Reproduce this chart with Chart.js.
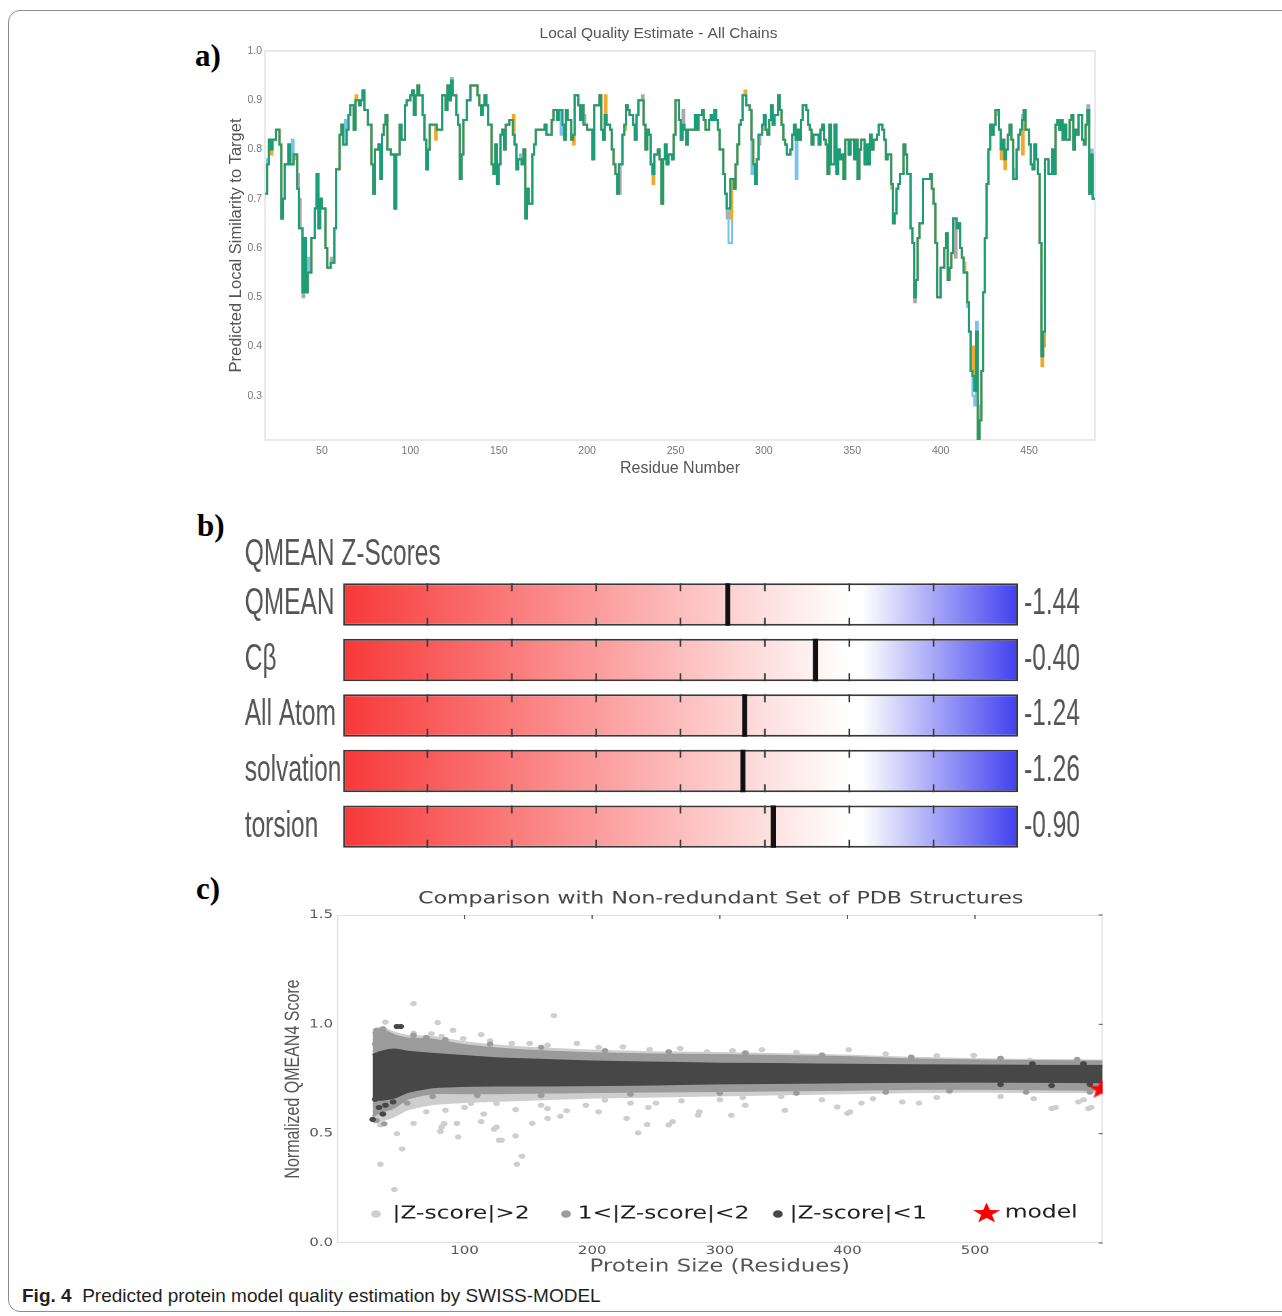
<!DOCTYPE html>
<html><head><meta charset="utf-8">
<script src="https://cdn.jsdelivr.net/npm/chart.js@4.4.1/dist/chart.umd.min.js"></script>
<style>
html,body{margin:0;padding:0;background:#fff;}
body{width:1282px;height:1316px;position:relative;overflow:hidden;}
.frame{position:absolute;left:8px;top:10px;width:1300px;height:1302px;border:1px solid #8c8c8c;border-radius:12px;box-sizing:border-box;}
.plab{position:absolute;font-family:'Liberation Serif','Times New Roman',serif;font-weight:bold;font-size:31px;color:#000;line-height:1;}
.panel{position:absolute;transform-origin:0 0;}
.caption{position:absolute;left:22px;top:1285px;font-family:'Liberation Sans',Arial,sans-serif;font-size:19px;color:#231f20;white-space:nowrap;}
</style></head>
<body>
<div class="frame"></div>
<div class="plab" style="left:195px;top:40px">a)</div>
<div class="plab" style="left:197px;top:510px">b)</div>
<div class="plab" style="left:196px;top:873px">c)</div>
<div class="panel" style="left:222px;top:15px"><canvas id="chartA" width="882" height="475"></canvas></div>
<div class="panel" style="left:240px;top:530px;transform:scaleX(0.68)"><canvas id="chartB" width="1250" height="347"></canvas></div>
<div class="panel" style="left:280px;top:880px;transform:scaleX(1.3)"><canvas id="chartC" width="678" height="400"></canvas></div>
<div class="caption"><b>Fig. 4</b>&nbsp; Predicted protein model quality estimation by SWISS-MODEL</div>
<script>
// ---------------- DATA: panel a (local quality, step breakpoints) ----------------
const resA = [18,19,20,21,22,24,26,27,28,29,31,32,34,36,37,39,40,41,42,44,46,47,48,49,50,52,53,55,57,58,60,61,62,64,65,66,68,69,71,72,73,74,76,78,79,80,82,83,84,85,86,87,89,91,92,94,95,97,98,100,101,102,103,104,105,107,108,109,110,111,115,118,120,121,122,123,124,126,127,128,129,130,132,134,138,139,140,141,142,143,144,146,147,148,149,150,151,152,153,154,156,158,159,160,161,163,164,165,166,167,169,170,171,176,177,180,181,183,184,186,187,188,189,191,192,193,195,196,197,198,200,203,204,207,208,209,210,211,213,214,215,216,217,218,220,221,222,223,224,226,227,228,229,232,233,234,235,236,237,238,240,241,242,243,244,245,246,248,249,250,252,253,254,255,256,257,261,262,263,265,266,267,269,270,271,272,273,274,275,277,278,279,281,283,284,285,286,287,288,290,292,293,294,295,296,297,299,300,301,302,303,304,305,306,308,309,310,311,312,313,315,316,317,318,319,320,321,322,324,325,326,327,328,331,332,333,334,335,336,337,338,340,341,342,343,344,345,346,348,349,351,352,353,354,355,357,358,359,360,361,362,364,365,367,368,369,370,372,373,374,375,376,377,379,380,381,383,384,385,386,387,388,390,394,395,396,397,398,400,402,403,404,405,406,407,409,410,411,412,413,415,416,417,418,419,420,421,422,423,424,425,426,427,428,429,430,431,433,434,435,436,437,438,439,440,441,443,444,445,446,447,448,450,451,452,453,454,455,456,457,458,459,461,463,464,465,466,467,468,469,470,471,473,474,475,476,477,478,480,481,482,483,484,485,486,487.3];
const qA = [0.71,0.77,0.82,0.80,0.82,0.84,0.81,0.66,0.70,0.77,0.81,0.77,0.79,0.72,0.64,0.51,0.62,0.51,0.55,0.62,0.68,0.75,0.64,0.70,0.68,0.60,0.56,0.57,0.64,0.76,0.83,0.85,0.81,0.84,0.87,0.89,0.84,0.90,0.89,0.90,0.92,0.88,0.85,0.77,0.71,0.80,0.81,0.74,0.83,0.85,0.87,0.80,0.79,0.68,0.79,0.85,0.82,0.89,0.90,0.91,0.92,0.87,0.91,0.93,0.91,0.87,0.82,0.76,0.80,0.85,0.84,0.91,0.88,0.93,0.90,0.94,0.91,0.87,0.85,0.74,0.79,0.86,0.90,0.93,0.91,0.89,0.87,0.89,0.91,0.89,0.85,0.77,0.75,0.81,0.73,0.77,0.83,0.84,0.80,0.85,0.86,0.83,0.81,0.76,0.78,0.77,0.80,0.66,0.72,0.69,0.79,0.81,0.84,0.85,0.83,0.86,0.88,0.86,0.88,0.85,0.82,0.88,0.86,0.82,0.83,0.91,0.89,0.86,0.89,0.85,0.84,0.78,0.89,0.91,0.84,0.82,0.87,0.85,0.84,0.80,0.77,0.75,0.71,0.77,0.83,0.85,0.89,0.88,0.87,0.85,0.82,0.87,0.90,0.85,0.80,0.84,0.83,0.77,0.75,0.79,0.80,0.78,0.69,0.78,0.81,0.77,0.79,0.78,0.83,0.90,0.86,0.82,0.85,0.84,0.81,0.84,0.87,0.84,0.87,0.88,0.86,0.84,0.86,0.87,0.86,0.88,0.86,0.84,0.80,0.75,0.71,0.68,0.74,0.72,0.77,0.81,0.85,0.86,0.91,0.89,0.88,0.82,0.77,0.73,0.78,0.83,0.85,0.87,0.84,0.83,0.86,0.89,0.85,0.87,0.91,0.88,0.85,0.82,0.81,0.79,0.80,0.83,0.85,0.82,0.84,0.82,0.86,0.89,0.88,0.85,0.84,0.81,0.83,0.81,0.84,0.85,0.82,0.81,0.75,0.85,0.77,0.85,0.75,0.80,0.78,0.79,0.74,0.82,0.79,0.82,0.78,0.82,0.74,0.80,0.82,0.77,0.81,0.77,0.83,0.80,0.82,0.83,0.85,0.84,0.82,0.78,0.79,0.73,0.65,0.67,0.72,0.73,0.75,0.81,0.79,0.75,0.64,0.61,0.50,0.535,0.62,0.65,0.74,0.75,0.72,0.69,0.61,0.50,0.56,0.60,0.63,0.535,0.56,0.59,0.66,0.64,0.65,0.60,0.58,0.55,0.49,0.43,0.35,0.34,0.31,0.43,0.21,0.25,0.35,0.51,0.62,0.73,0.80,0.85,0.83,0.85,0.88,0.84,0.80,0.82,0.78,0.80,0.83,0.85,0.82,0.74,0.80,0.83,0.84,0.86,0.88,0.84,0.81,0.77,0.76,0.81,0.78,0.75,0.61,0.38,0.43,0.78,0.75,0.80,0.75,0.85,0.86,0.84,0.86,0.82,0.85,0.82,0.86,0.87,0.80,0.84,0.83,0.87,0.82,0.81,0.85,0.88,0.71,0.79,0.70,0.70];
// other chains: residues where they differ from the teal chain [residue, value]
const orangeDiff = [[21,0.79],[39,0.52],[40,0.60],[69,0.91],[104,0.93],[114,0.82],[158,0.87],[165,0.67],[192,0.81],[210,0.91],[221,0.84],[237,0.73],[281,0.66],[289,0.92],[300,0.84],[364,0.83],[372,0.72],[413,0.57],[418,0.40],[434,0.78],[436,0.76],[446,0.79],[457,0.36],[458,0.40]];
const blueDiff = [[19,0.78],[33,0.82],[42,0.58],[47,0.71],[63,0.86],[101,0.92],[123,0.945],[162,0.79],[185,0.83],[280,0.61],[281,0.61],[293,0.75],[318,0.74],[415,0.48],[418,0.30],[419,0.28],[420,0.45],[421,0.28],[441,0.76],[446,0.87],[457,0.40],[483,0.885],[485,0.80]];
const grayDiff = [[34,0.78],[36,0.75],[37,0.70],[39,0.50],[55,0.58],[165,0.70],[198,0.87],[217,0.71],[218,0.71],[231,0.91],[254,0.88],[279,0.66],[297,0.81],[385,0.49],[408,0.58],[432,0.87],[483,0.89]];
const xTicksA = [50,100,150,200,250,300,350,400,450];
const yTicksA = [0.3,0.4,0.5,0.6,0.7,0.8,0.9,1.0];

// ---------------- DATA: panel b (QMEAN Z-scores) ----------------
const zLabels = ['QMEAN','Cβ','All Atom','solvation','torsion'];
const zScores = [-1.44,-0.40,-1.24,-1.26,-0.90];
const zRange = [-6, 2];
const zTicks = [-5,-4,-3,-2,-1,0,1];

// ---------------- DATA: panel c (comparison with PDB set) ----------------
const sizeGrid = [28,35,45,55,75,100,125,150,200,250,300,350,400,450,500,550,600];
const darkHi  = [0.86,0.875,0.885,0.875,0.865,0.855,0.845,0.84,0.83,0.825,0.82,0.818,0.815,0.813,0.812,0.81,0.81];
const darkLo  = [0.66,0.655,0.665,0.69,0.712,0.718,0.72,0.72,0.722,0.725,0.73,0.732,0.735,0.737,0.738,0.737,0.735];
const midHi   = [0.96,0.975,0.95,0.935,0.93,0.905,0.89,0.88,0.868,0.862,0.86,0.855,0.85,0.84,0.835,0.832,0.83];
const midLo   = [0.58,0.60,0.62,0.66,0.685,0.685,0.685,0.687,0.69,0.693,0.695,0.698,0.70,0.705,0.705,0.703,0.70];
const lightHi = [0.97,0.985,0.962,0.948,0.942,0.918,0.903,0.893,0.88,0.872,0.869,0.863,0.857,0.847,0.841,0.837,0.834];
const lightLo = [0.55,0.56,0.58,0.61,0.635,0.645,0.65,0.655,0.665,0.67,0.675,0.68,0.685,0.69,0.692,0.69,0.69];
const lightPts = [[60,1.095],[170,1.04],[38,1.01],[79,1.008],[91,0.973],[113,0.953],[74,0.957],[99,0.935],[137,0.913],[151,0.913],[188,0.913],[224,0.897],[269,0.89],[290,0.874],[333,0.884],[401,0.884],[499,0.858],[543,0.836],
 [120,0.925],[165,0.905],[205,0.895],[245,0.885],[310,0.88],[360,0.872],[430,0.865],[470,0.857],[82,0.945],[60,0.96],
 [34,0.54],[47,0.50],[51,0.43],[60,0.547],[81,0.51],[82,0.53],[84,0.546],[95,0.485],[94,0.547],[113,0.555],[125,0.53],[123,0.52],[127,0.47],[129,0.47],[140,0.49],[145,0.397],[141,0.36],[153,0.547],[165,0.57],[165,0.615],[236,0.504],[243,0.542],[260,0.54],[263,0.555],[227,0.57],[283,0.584],[309,0.584],[351,0.607],[392,0.622],[400,0.593],[443,0.645],[456,0.64],[560,0.615],[581,0.645],[589,0.615],[546,0.66],
 [45,0.245],[34,0.36],[38,0.62],[65,0.638],[85,0.607],[105,0.638],[125,0.638],[140,0.61],[160,0.63],[180,0.605],[195,0.63],[210,0.653],[230,0.64],[250,0.64],[270,0.65],[300,0.655],[320,0.63],[380,0.655],[420,0.66],[470,0.665],[520,0.67],[100,0.62],[70,0.60],[115,0.59],[175,0.58],[205,0.60],[402,0.60],[411,0.64],[563,0.62],[591,0.62],[585,0.655],[318,0.665],[348,0.67],[182,0.67],[284,0.60],[244,0.62]];
const midPts = [[31,0.973],[34,0.957],[30,0.91],[36,0.98],[40,0.94],[31,0.56],[37,0.545],[33,0.60],[42,0.62],[55,0.64],[45,0.935],[60,0.95],[70,0.94],[85,0.93],[120,0.91],[160,0.895],[210,0.88],[260,0.875],[320,0.87],[380,0.86],[450,0.85],[520,0.845],[580,0.84],[597,0.82],[75,0.67],[110,0.675],[160,0.675],[230,0.68],[300,0.685],[360,0.685],[430,0.69],[480,0.695],[540,0.69],[590,0.69]];
const darkPts = [[47,0.99],[50,0.99],[28,0.565],[30,0.657],[33,0.62],[38,0.63],[36,0.59],[44,0.645],[520,0.725],[560,0.72],[590,0.725],[585,0.82],[545,0.82]];
const modelPt = [[599,0.706]];
const xTicksC = [100,200,300,400,500];
const yTicksC = [0,0.5,1.0,1.5];
const legendLabels = ['|Z-score|>2','1<|Z-score|<2','|Z-score|<1','model'];

// ---------------- helpers ----------------
Chart.defaults.font.family = "'Liberation Sans', Arial, sans-serif";
const SANS = "'Liberation Sans', Arial, sans-serif";
const DV = "'DejaVu Sans', Verdana, sans-serif";

function valAt(r){ let v = qA[0]; for (let i=0;i<resA.length;i++){ if (resA[i] <= r) v = qA[i]; else break; } return v; }
function chainPoints(diff){
  const m = new Map(); resA.forEach((r,i)=>m.set(r,qA[i]));
  const ov = new Map(diff.map(d=>[d[0],d[1]]));
  diff.forEach(([r])=>{ if(!ov.has(r+1) && !m.has(r+1)) m.set(r+1, valAt(r+1)); });
  ov.forEach((v,r)=>m.set(r,v));
  return [...m.entries()].sort((a,b)=>a[0]-b[0]).map(([x,y])=>({x,y}));
}
const tealPts = resA.map((r,i)=>({x:r,y:qA[i]}));

// ---------------- panel a ----------------
const frameA = { id:'frameA', beforeDatasetsDraw(ch){ const {ctx, chartArea:a} = ch; ctx.save(); ctx.strokeStyle='#e9e9e9'; ctx.lineWidth=2; ctx.strokeRect(a.left, a.top, a.right-a.left, a.bottom-a.top); ctx.restore(); } };
function lineDS(label, data, color, order){ return {label, data, borderColor:color, backgroundColor:color, borderWidth:2, pointRadius:0, stepped:'before', fill:false, order}; }
new Chart(document.getElementById('chartA'), {
  type:'line',
  data:{ datasets:[
    lineDS('Chain A', tealPts, '#1b9e77', 0),
    lineDS('Chain B', chainPoints(orangeDiff), '#f2a82a', 1),
    lineDS('Chain C', chainPoints(blueDiff), '#78c2ec', 2),
    lineDS('Chain D', chainPoints(grayDiff), '#a9a9a9', 3)
  ]},
  options:{
    responsive:false, animation:false,
    layout:{padding:{left:0,right:9,top:0,bottom:0}},
    plugins:{ legend:{display:false}, tooltip:{enabled:false},
      title:{display:true, text:'Local Quality Estimate - All Chains', color:'#555', font:{size:15.5, weight:'normal', family:SANS}, padding:{top:9.7,bottom:7.7}} },
    scales:{
      x:{ type:'linear', min:17.8, max:487.3,
        afterBuildTicks:s=>{ s.ticks = xTicksA.map(v=>({value:v})); },
        ticks:{ color:'#777', font:{size:10.5}, padding:5, maxRotation:0, autoSkip:false },
        grid:{display:false, drawTicks:false}, border:{display:false},
        title:{display:true, text:'Residue Number', color:'#555', font:{size:16}, padding:{top:0,bottom:12}},
        afterFit:s=>{ s.height = 50; } },
      y:{ type:'linear', min:0.21, max:1.0,
        afterBuildTicks:s=>{ s.ticks = yTicksA.map(v=>({value:v})); },
        ticks:{ color:'#777', font:{size:10.5}, padding:3, callback:v=>Number(v).toFixed(1) },
        grid:{display:false, drawTicks:false}, border:{display:false},
        title:{display:true, text:'Predicted Local Similarity to Target', color:'#555', font:{size:16.5}, padding:{top:5,bottom:0}},
        afterFit:s=>{ s.width = 43; } }
    }
  },
  plugins:[frameA]
});

// ---------------- panel b ----------------
function zGradient(c){
  const ch = c.chart, a = ch.chartArea; if (!a) return '#f99';
  const g = ch.ctx.createLinearGradient(a.left,0,a.right,0);
  g.addColorStop(0,'rgb(248,56,56)');
  g.addColorStop(0.745,'rgb(255,255,255)');
  g.addColorStop(0.77,'rgb(255,255,255)');
  g.addColorStop(1,'rgb(64,64,240)');
  return g;
}
const MARK_HALF = 0.03;
const zTickPlugin = { id:'zTicks', afterDatasetDraw(ch, args){
  if (args.index !== 1) return;
  const ctx = ch.ctx, xs = ch.scales.x;
  ctx.save(); ctx.strokeStyle='#3a3a3a'; ctx.lineWidth=2.4;
  args.meta.data.forEach(bar=>{
    const {y, height} = bar.getProps(['y','height'], true);
    const t = y - height/2, b = y + height/2;
    zTicks.forEach(z=>{ const px = xs.getPixelForValue(z);
      ctx.beginPath(); ctx.moveTo(px,t); ctx.lineTo(px,t+8); ctx.moveTo(px,b-8); ctx.lineTo(px,b); ctx.stroke(); });
  });
  ctx.restore();
}};
new Chart(document.getElementById('chartB'), {
  type:'bar',
  data:{ labels:zLabels, datasets:[
    { label:'Z-score', data:zScores.map(z=>[z-MARK_HALF, z+MARK_HALF]), backgroundColor:'#111', borderWidth:0, grouped:false, barPercentage:0.764, categoryPercentage:1, order:0 },
    { label:'scale', data:zLabels.map(()=>zRange), backgroundColor:zGradient, borderColor:'#383838', borderWidth:{top:2,bottom:2,left:3,right:3}, borderSkipped:false, grouped:false, barPercentage:0.764, categoryPercentage:1, order:1 }
  ]},
  options:{
    indexAxis:'y', responsive:false, animation:false,
    layout:{autoPadding:false, padding:{left:7,right:0,top:0,bottom:8.5}},
    plugins:{ legend:{display:false}, tooltip:{enabled:false},
      title:{display:true, text:'QMEAN Z-Scores', align:'start', color:'#555', font:{size:36, weight:'normal'}, padding:{top:3.5,bottom:0}} },
    scales:{
      x:{ type:'linear', min:zRange[0], max:zRange[1], display:false },
      y:{ type:'category', position:'left', offset:true, grid:{display:false}, border:{display:false},
          ticks:{ color:'#555', font:{size:36}, crossAlign:'far', padding:0 }, afterFit:s=>{ s.width = 144.5; } },
      y2:{ type:'category', position:'right', offset:true, labels:zScores.map(z=>z.toFixed(2)), grid:{display:false}, border:{display:false},
          ticks:{ color:'#555', font:{size:36}, padding:1 }, afterFit:s=>{ s.width = 105.9; } }
    }
  },
  plugins:[zTickPlugin]
});

// ---------------- panel c ----------------
const DARK='#474747', MID='#9b9b9b', LIGHT='#cecece', RED='#ff0000';
function starPath(ctx, cx, cy, R, r){ ctx.beginPath(); for(let i=0;i<10;i++){ const a = -Math.PI/2 + i*Math.PI/5; const rad = i%2===0?R:r; ctx.lineTo(cx+rad*Math.cos(a), cy+rad*Math.sin(a)); } ctx.closePath(); }
const starImg = document.createElement('canvas'); starImg.width=22; starImg.height=22;
(function(){ const c=starImg.getContext('2d'); c.fillStyle=RED; starPath(c,11,11.8,10.5,4.2); c.fill(); })();
function band(label, xs, ys, color, fill, order){ return { type:'line', label, data:xs.map((x,i)=>({x, y:ys[i]})), borderColor:color, backgroundColor:color, borderWidth:2, pointRadius:0, fill, order, tension:0.2 }; }
function pts(label, arr, color, order){ return { type:'scatter', label, data:arr.map(p=>({x:p[0], y:p[1]})), backgroundColor:color, borderWidth:0, pointRadius:2.6, order }; }
const frameC = { id:'frameC',
  beforeDatasetsDraw(ch){ const {ctx, chartArea:a} = ch; ctx.save(); ctx.strokeStyle='#e0e0e0'; ctx.lineWidth=1; ctx.strokeRect(a.left+0.5, a.top+0.5, a.right-a.left-1, a.bottom-a.top-1);
    ctx.strokeStyle='#555'; ctx.lineWidth=1;
    xTicksC.forEach(v=>{ const px = ch.scales.x.getPixelForValue(v); ctx.beginPath(); ctx.moveTo(px,a.top); ctx.lineTo(px,a.top+4); ctx.stroke(); });
    yTicksC.forEach(v=>{ const py = ch.scales.y.getPixelForValue(v); ctx.beginPath(); ctx.moveTo(a.right-3,py); ctx.lineTo(a.right,py); ctx.stroke(); });
    ctx.restore(); },
  afterDraw(ch){ const ctx = ch.ctx; ctx.save();
    const y = 334;
    const items = [{dx:73.8, tx:86.5, c:LIGHT},{dx:220, tx:229, c:MID},{dx:383, tx:392, c:DARK}];
    ctx.font = "18px " + DV; ctx.textBaseline='middle'; ctx.textAlign='left';
    items.forEach((it,i)=>{ ctx.fillStyle=it.c; ctx.beginPath(); ctx.arc(it.dx, y, 3.8, 0, Math.PI*2); ctx.fill(); ctx.fillStyle='#1e1e1e'; ctx.fillText(legendLabels[i], it.tx, y); });
    ctx.fillStyle=RED; starPath(ctx, 543.5, y-0.5, 11, 4.4); ctx.fill();
    ctx.fillStyle='#1e1e1e'; ctx.fillText(legendLabels[3], 557.5, y-1);
    ctx.restore(); }
};
new Chart(document.getElementById('chartC'), {
  type:'scatter',
  data:{ datasets:[
    band('|Z-score|<1 upper', sizeGrid, darkHi, DARK, '+1', 2),
    band('|Z-score|<1 lower', sizeGrid, darkLo, DARK, false, 2),
    band('1<|Z-score|<2 upper', sizeGrid, midHi, MID, '+1', 4),
    band('1<|Z-score|<2 lower', sizeGrid, midLo, MID, false, 4),
    band('|Z-score|>2 upper', sizeGrid, lightHi, LIGHT, '+1', 6),
    band('|Z-score|>2 lower', sizeGrid, lightLo, LIGHT, false, 6),
    pts('|Z-score|>2', lightPts, LIGHT, 5),
    pts('1<|Z-score|<2', midPts, MID, 3),
    pts('|Z-score|<1', darkPts, DARK, 1),
    { type:'scatter', label:'model', data:modelPt.map(p=>({x:p[0],y:p[1]})), pointStyle:starImg, pointRadius:10, order:0 }
  ]},
  options:{
    responsive:false, animation:false, devicePixelRatio:2,
    layout:{padding:0},
    plugins:{ legend:{display:false}, tooltip:{enabled:false},
      title:{display:true, text:'Comparison with Non-redundant Set of PDB Structures', color:'#444', font:{size:17, weight:'normal', family:DV}, padding:{top:8.8,bottom:5.8}} },
    scales:{
      x:{ type:'linear', min:0, max:600,
        afterBuildTicks:s=>{ s.ticks = xTicksC.map(v=>({value:v})); },
        ticks:{ color:'#555', font:{size:11.5, family:DV}, padding:1, maxRotation:0, autoSkip:false },
        grid:{display:false, drawTicks:false}, border:{display:false},
        title:{display:true, text:'Protein Size (Residues)', color:'#555', font:{size:17.5, family:DV}, padding:{top:0,bottom:2.5}},
        afterFit:s=>{ s.height = 37; } },
      y:{ type:'linear', min:0, max:1.5,
        afterBuildTicks:s=>{ s.ticks = yTicksC.map(v=>({value:v})); },
        ticks:{ color:'#555', font:{size:11.5, family:DV}, padding:3, callback:v=>Number(v).toFixed(1) },
        grid:{display:false, drawTicks:false}, border:{display:false},
        title:{display:true, text:'Normalized QMEAN4 Score', color:'#555', font:{size:16, family:SANS}, padding:{top:0.4,bottom:0}},
        afterFit:s=>{ s.width = 43.8; } },
      yR:{ type:'linear', position:'right', display:true, ticks:{display:false}, grid:{display:false}, border:{display:false}, afterFit:s=>{ s.width = 45.2; } }
    }
  },
  plugins:[frameC]
});
</script>
</body></html>
